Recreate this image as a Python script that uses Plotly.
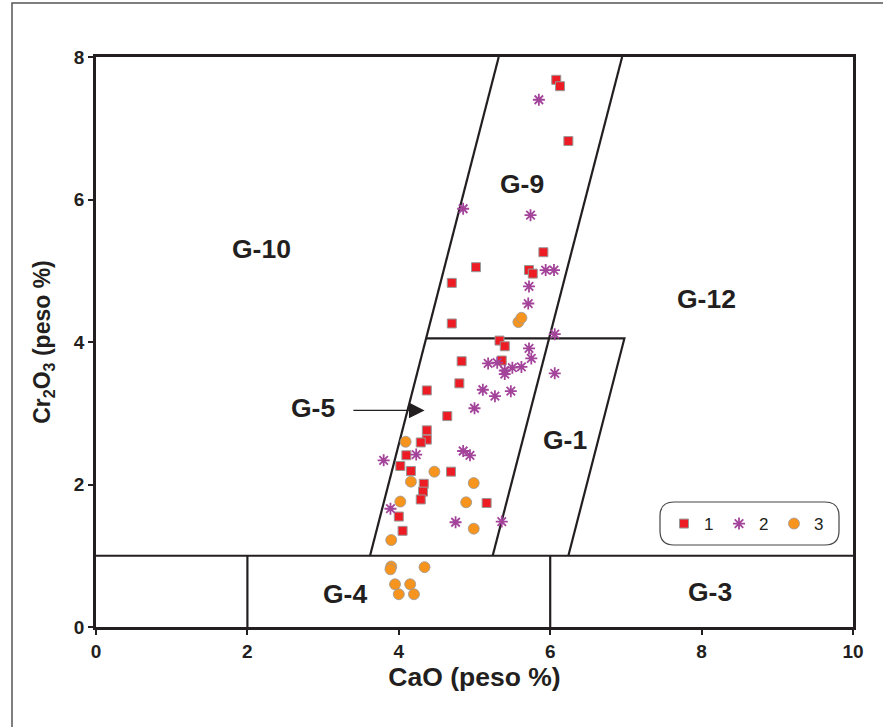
import plotly.graph_objects as go

# ---- data (CaO %, Cr2O3 %) ----
g1_cao = [6.08, 6.13, 6.24, 5.91, 5.02, 5.72, 5.77, 4.70, 4.70, 5.33, 5.40, 4.83, 5.36,
          4.80, 4.37, 4.64, 4.37, 4.37, 4.29, 4.10, 4.02, 4.16, 4.69, 4.33, 4.32, 4.29,
          5.16, 4.00, 4.05]
g1_cr = [7.68, 7.59, 6.82, 5.26, 5.05, 5.01, 4.96, 4.83, 4.26, 4.02, 3.94, 3.73, 3.74,
         3.42, 3.32, 2.96, 2.76, 2.63, 2.59, 2.41, 2.26, 2.19, 2.18, 2.01, 1.90, 1.79,
         1.74, 1.55, 1.35]

g2_cao = [5.85, 4.85, 5.74, 5.94, 6.05, 5.72, 5.71, 6.06, 5.72, 5.75, 5.18, 5.30, 5.40,
          5.40, 5.50, 5.62, 6.06, 5.11, 5.27, 5.48, 5.00, 3.80, 4.23, 4.85, 4.94, 3.89,
          4.75, 5.36]
g2_cr = [7.40, 5.87, 5.78, 5.01, 5.01, 4.78, 4.54, 4.11, 3.91, 3.77, 3.70, 3.71, 3.60,
         3.55, 3.64, 3.65, 3.56, 3.33, 3.24, 3.31, 3.07, 2.34, 2.42, 2.47, 2.41, 1.66,
         1.47, 1.48]

g3_cao = [5.58, 5.62, 4.09, 4.47, 4.16, 4.99, 4.02, 4.89, 4.99, 3.90, 3.90, 3.89, 4.34,
          3.95, 4.15, 4.00, 4.20]
g3_cr = [4.28, 4.34, 2.60, 2.18, 2.04, 2.02, 1.76, 1.75, 1.38, 1.22, 0.85, 0.81, 0.84,
         0.60, 0.60, 0.46, 0.46]

# field boundaries (segments separated by None)
bound_x = [0, 10, None, 2, 2, None, 6, 6, None, 3.62, 5.32, None, 5.24, 6.95, None,
           6.24, 6.98, 4.36]
bound_y = [1, 1, None, 0, 1, None, 0, 1, None, 1, 8, None, 1, 8, None,
           1, 4.05, 4.05]

# field labels
lab_text = ["G-10", "G-9", "G-12", "G-5", "G-1", "G-4", "G-3"]
lab_x = [2.19, 5.63, 8.07, 2.87, 6.19, 3.29, 8.11]
lab_y = [5.31, 6.22, 4.61, 3.07, 2.62, 0.46, 0.49]

arrow_from = (3.38, 3.04)
arrow_to = (4.34, 3.04)

INK = "#231f20"
FONT = "Liberation Sans, Arial, sans-serif"

# plot area geometry in page pixels (used only for paper-referenced decorations)
L, R, T, B = 96, 853, 57, 627
PW, PH = R - L, B - T


def px(xp):
    return (xp - L) / PW


def py(yp):
    return (B - yp) / PH


fig = go.Figure()
fig.add_trace(go.Scatter(x=bound_x, y=bound_y, mode="lines",
                         line=dict(color=INK, width=2.2), showlegend=False,
                         hoverinfo="skip"))
fig.add_trace(go.Scatter(x=g1_cao, y=g1_cr, mode="markers", name="1",
                         marker=dict(symbol="square", size=9, color="#ED1C24",
                                     line=dict(color="#999999", width=1))))
fig.add_trace(go.Scatter(x=g2_cao, y=g2_cr, mode="markers", name="2",
                         marker=dict(symbol="asterisk-open", size=10, color="#A3449A",
                                     line=dict(color="#A3449A", width=1.8))))
fig.add_trace(go.Scatter(x=g3_cao, y=g3_cr, mode="markers", name="3",
                         marker=dict(symbol="circle", size=11, color="#F7941D",
                                     line=dict(color="#999999", width=0.8))))

for t, x, y in zip(lab_text, lab_x, lab_y):
    fig.add_annotation(x=x, y=y, text=t, showarrow=False,
                       font=dict(family=FONT, size=26.5, color=INK, weight="bold"))

fig.add_annotation(x=arrow_to[0], y=arrow_to[1], ax=arrow_from[0], ay=arrow_from[1],
                   axref="x", ayref="y", xref="x", yref="y", text="",
                   showarrow=True, arrowhead=2, arrowsize=2.6, arrowwidth=1.2,
                   arrowcolor=INK)

# rounded legend box
x0, x1, y0, y1 = px(660), px(839), py(545), py(502)
rx, ry = 14 / PW, 14 / PH
path = (f"M {x0+rx},{y1} L {x1-rx},{y1} Q {x1},{y1} {x1},{y1-ry} "
        f"L {x1},{y0+ry} Q {x1},{y0} {x1-rx},{y0} L {x0+rx},{y0} "
        f"Q {x0},{y0} {x0},{y0+ry} L {x0},{y1-ry} Q {x0},{y1} {x0+rx},{y1} Z")
fig.add_shape(type="path", xref="paper", yref="paper", path=path,
              line=dict(color="#444444", width=1.2), fillcolor="white", layer="below")
# outer frame of the figure
fig.add_shape(type="rect", xref="paper", yref="paper",
              x0=px(12), x1=px(900), y0=py(740), y1=py(3),
              line=dict(color="#555555", width=1.5), layer="below")

axis_common = dict(showline=True, mirror=True, linewidth=2.5, linecolor=INK,
                   showgrid=False, zeroline=False, ticks="outside", ticklen=5,
                   tickwidth=1.5, tickcolor=INK,
                   tickfont=dict(family=FONT, size=19, color=INK, weight="bold"))

fig.update_layout(
    width=883, height=727,
    margin=dict(l=L, r=883 - R, t=T, b=727 - B, autoexpand=False),
    paper_bgcolor="white", plot_bgcolor="white",
    xaxis=dict(range=[0, 10], dtick=2,
               title=dict(text="CaO (peso %)", standoff=6,
                          font=dict(family=FONT, size=26.5, color=INK, weight="bold")),
               **axis_common),
    yaxis=dict(range=[0, 8], dtick=2,
               title=dict(text="Cr<sub>2</sub>O<sub>3</sub> (peso %)", standoff=17,
                          font=dict(family=FONT, size=23, color=INK, weight="bold")),
               **axis_common),
    legend=dict(orientation="h", x=px(664), y=py(524), xanchor="left", yanchor="middle",
                bgcolor="rgba(0,0,0,0)", borderwidth=0,
                font=dict(family=FONT, size=17, color=INK),
                itemwidth=30, entrywidth=10, entrywidthmode="pixels"),
)

fig.write_html("out.html", config={"displayModeBar": False},
               post_script="document.body.style.margin='0px';")
